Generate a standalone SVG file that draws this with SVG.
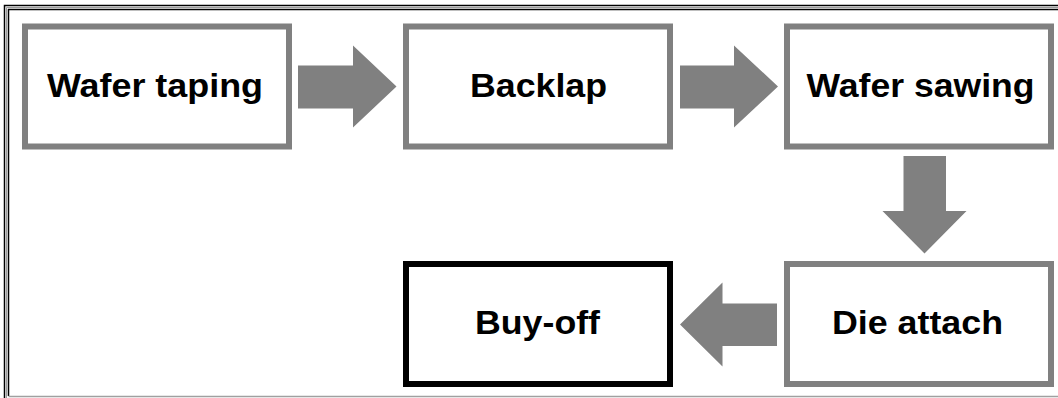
<svg xmlns="http://www.w3.org/2000/svg" width="1058" height="398" viewBox="0 0 1058 398">
  <style>
    .box { fill: #ffffff; stroke: #808080; stroke-width: 6; }
    .box.final { stroke: #000000; }
    .label { font-family: "Liberation Sans", Arial, sans-serif; font-weight: bold; font-size: 34px; fill: #000000; text-anchor: middle; }
    .arrow { fill: #808080; stroke: none; }
  </style>

  <!-- page background and double frame -->
  <rect x="0" y="0" width="1058" height="398" fill="#ffffff"/>
  <g id="frame" fill="none">
    <path d="M4.5,398 V5.5 H1058" stroke="#000000" stroke-width="1.5"/>
    <path d="M6.5,398 V7.5 H1058" stroke="#9a9a9a" stroke-width="1"/>
    <path d="M8.5,396 V9.5 H1058" stroke="#000000" stroke-width="1.5"/>
    <path d="M8.5,396.5 H1058" stroke="#a0a0a0" stroke-width="1.5"/>
  </g>

  <!-- process steps -->
  <g id="wafer-taping">
    <rect class="box" x="25" y="26.5" width="264" height="120"/>
    <text class="label" x="155" y="97" textLength="216" lengthAdjust="spacingAndGlyphs">Wafer taping</text>
  </g>
  <g id="backlap">
    <rect class="box" x="406" y="26.5" width="264" height="120"/>
    <text class="label" x="538.5" y="97" textLength="137" lengthAdjust="spacingAndGlyphs">Backlap</text>
  </g>
  <g id="wafer-sawing">
    <rect class="box" x="787" y="26.5" width="264" height="120"/>
    <text class="label" x="920.5" y="97" textLength="228" lengthAdjust="spacingAndGlyphs">Wafer sawing</text>
  </g>
  <g id="die-attach">
    <rect class="box" x="787" y="264" width="264" height="120"/>
    <text class="label" x="917.5" y="334" textLength="171" lengthAdjust="spacingAndGlyphs">Die attach</text>
  </g>
  <g id="buy-off">
    <rect class="box final" x="406" y="264" width="264" height="120"/>
    <text class="label" x="537.5" y="334" textLength="125" lengthAdjust="spacingAndGlyphs">Buy-off</text>
  </g>

  <!-- block arrows between steps -->
  <g id="connectors">
    <polygon class="arrow" points="298,65.5 353,65.5 353,45.5 396.5,86.5 353,127.5 353,108.5 298,108.5"/>
    <polygon class="arrow" points="680,65.5 734,65.5 734,45.5 778,86.5 734,127.5 734,108.5 680,108.5"/>
    <polygon class="arrow" points="903.5,156 946,156 946,211 966.5,211 924.5,253.5 882.5,211 903.5,211"/>
    <polygon class="arrow" points="777,303.5 722.5,303.5 722.5,282.5 680,324.5 722.5,366.5 722.5,346 777,346"/>
  </g>
</svg>
